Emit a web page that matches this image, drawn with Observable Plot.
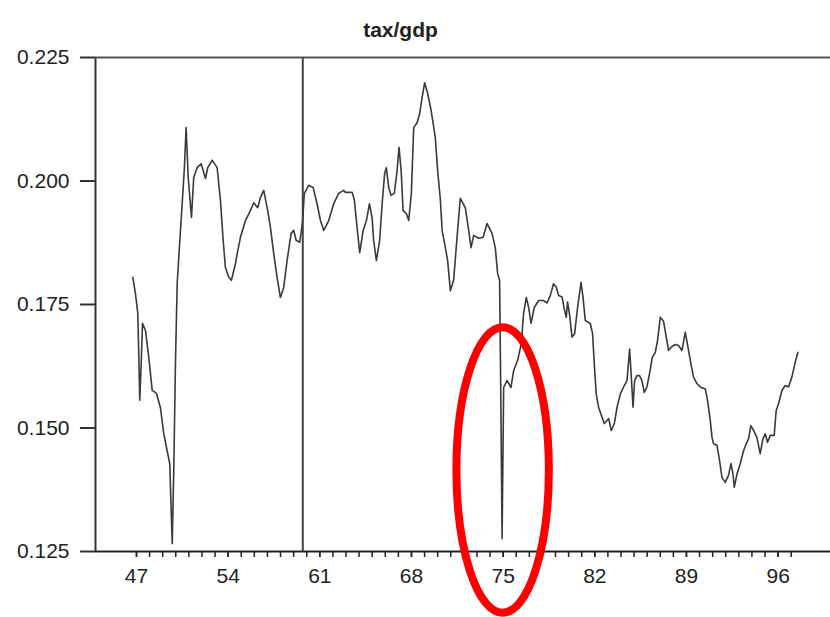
<!DOCTYPE html>
<html>
<head>
<meta charset="utf-8">
<script src="https://cdn.jsdelivr.net/npm/d3@7"></script>
<script src="https://cdn.jsdelivr.net/npm/@observablehq/plot@0.6"></script>
<style>
  html, body { margin: 0; padding: 0; background: #fff; }
  #chart svg { display: block; }
</style>
</head>
<body>
<div id="chart"></div>
<script>
const title = "tax/gdp";

const years = [
  46.72,46.92,47.10,47.18,47.25,47.36,47.46,47.69,47.94,48.20,
  48.53,48.83,49.08,49.34,49.54,49.73,49.85,49.98,50.11,50.31,
  50.49,50.66,50.79,50.95,51.20,51.37,51.63,51.94,52.27,52.44,
  52.78,53.16,53.41,53.62,53.79,54.05,54.25,54.56,54.69,54.94,
  55.32,55.70,55.95,56.26,56.47,56.72,56.98,57.23,57.48,57.74,
  57.99,58.24,58.50,58.81,59.01,59.19,59.47,59.67,59.82,60.15,
  60.49,60.79,61.05,61.30,61.68,62.06,62.44,62.82,62.95,63.47,
  63.64,63.89,64.05,64.31,64.56,64.79,64.99,65.11,65.32,65.57,
  65.76,65.95,66.08,66.26,66.44,66.69,66.90,67.05,67.21,67.36,
  67.61,67.79,67.99,68.17,68.43,68.63,68.81,69.01,69.24,69.50,
  69.82,70.00,70.21,70.34,70.59,70.76,70.97,71.22,71.48,71.73,
  72.11,72.37,72.55,72.75,73.13,73.47,73.77,74.15,74.40,74.58,
  74.73,74.81,74.92,75.04,75.30,75.60,75.80,76.11,76.39,76.56,
  76.77,76.95,77.13,77.38,77.71,78.09,78.35,78.60,78.85,79.06,
  79.24,79.50,79.67,79.82,79.92,80.08,80.26,80.46,80.69,80.95,
  81.10,81.27,81.66,81.83,81.96,82.11,82.29,82.55,82.73,82.93,
  83.06,83.26,83.49,83.70,83.95,84.20,84.46,84.66,84.76,84.92,
  85.04,85.22,85.42,85.60,85.78,85.98,86.18,86.39,86.62,86.79,
  87.00,87.25,87.46,87.63,87.89,88.15,88.40,88.66,88.91,89.16,
  89.34,89.54,89.80,90.05,90.44,90.61,90.82,90.95,91.07,91.33,
  91.53,91.71,91.96,92.21,92.40,92.55,92.65,92.86,93.11,93.36,
  93.56,93.74,93.92,94.12,94.38,94.63,94.84,95.02,95.19,95.40,
  95.70,95.85,96.03,96.29,96.54,96.79,97.05,97.30,97.51
];

const taxGdp = [
  .1805,.1772,.1732,.1643,.1556,.1631,.1712,.1697,.1643,.1576,
  .1570,.1541,.1489,.1454,.1428,.1266,.1420,.1637,.1793,.1880,
  .1954,.2027,.2108,.2007,.1926,.2007,.2027,.2035,.2005,.2027,
  .2042,.2027,.1961,.1880,.1825,.1805,.1799,.1833,.1853,.1886,
  .1920,.1940,.1956,.1946,.1967,.1981,.1946,.1906,.1853,.1805,
  .1764,.1784,.1839,.1894,.1900,.1880,.1876,.1914,.1975,.1991,
  .1987,.1954,.1920,.1900,.1920,.1954,.1975,.1981,.1977,.1977,
  .1961,.1894,.1855,.1900,.1920,.1954,.1926,.1880,.1839,.1880,
  .1954,.2015,.2027,.1987,.1971,.1975,.2021,.2068,.2021,.1940,
  .1934,.1920,.1975,.2108,.2118,.2137,.2169,.2199,.2177,.2143,
  .2088,.2021,.1961,.1900,.1865,.1839,.1778,.1799,.1886,.1965,
  .1946,.1900,.1865,.1890,.1884,.1886,.1914,.1894,.1865,.1813,
  .1799,.1596,.1276,.1582,.1596,.1582,.1616,.1637,.1671,.1732,
  .1764,.1744,.1712,.1744,.1758,.1758,.1753,.1768,.1792,.1785,
  .1768,.1765,.1741,.1724,.1755,.1728,.1684,.1691,.1745,.1795,
  .1765,.1718,.1711,.1691,.1630,.1569,.1542,.1522,.1509,.1515,
  .1519,.1495,.1509,.1542,.1569,.1583,.1596,.1660,.1616,.1542,
  .1596,.1606,.1606,.1596,.1572,.1583,.1610,.1643,.1653,.1677,
  .1724,.1716,.1684,.1657,.1665,.1669,.1667,.1657,.1694,.1657,
  .1630,.1603,.1590,.1583,.1579,.1556,.1515,.1481,.1468,.1465,
  .1434,.1400,.1390,.1404,.1428,.1407,.1380,.1407,.1428,.1454,
  .1468,.1478,.1505,.1495,.1481,.1448,.1478,.1488,.1471,.1485,
  .1485,.1535,.1549,.1576,.1586,.1583,.1603,.1633,.1653
];

const xTickLabels = [47, 54, 61, 68, 75, 82, 89, 96];
const xMinorTicks = [47,48,49,50,51,52,53,54,55,56,57,58,59,60,61,62,63,64,65,66,67,68,69,70,71,72,73,74,75,76,77,78,79,80,81,82,83,84,85,86,87,88,89,90,91,92,93,94,95,96,97];
const yTicks = [0.125, 0.150, 0.175, 0.200, 0.225];
const breakYear = [59.7];
// highlighted observation (red ellipse): centre year/value and half-extent in data units
const highlight = {year: 75.0, value: 0.1414, halfYears: 3.53, halfValue: 0.0289};

const data = years.map((y, i) => ({year: y, value: taxGdp[i]}));
const xDomain = [43.87, 100];
const yDomain = [0.125, 0.225];
const font = "'Liberation Sans', Arial, Helvetica, sans-serif";

const plot = Plot.plot({
  width: 830,
  height: 617,
  marginLeft: 95,
  marginRight: 0,
  marginTop: 57,
  marginBottom: 66,
  style: {fontFamily: font, fontSize: "21px", color: "#222", background: "#fff", overflow: "visible"},
  x: {domain: xDomain, axis: null},
  y: {domain: yDomain, axis: null},
  marks: [
    Plot.axisX(xMinorTicks, {tickSize: 6, tickFormat: () => "", stroke: "#222", strokeWidth: 1.5, label: null}),
    Plot.axisX(xTickLabels, {tickSize: 6, tickPadding: 11, fontSize: 21, stroke: "#222", strokeWidth: 1.5, label: null, fill: "#222"}),
    Plot.axisY(yTicks, {tickSize: 15, tickPadding: 11, fontSize: 21, tickFormat: d3.format(".3f"), stroke: "#333", strokeWidth: 2, label: null, fill: "#222"}),
    Plot.ruleX([xDomain[0]], {stroke: "#333", strokeWidth: 2}),
    Plot.ruleY([yDomain[1]], {stroke: "#555", strokeWidth: 2}),
    Plot.ruleY([yDomain[0]], {stroke: "#222", strokeWidth: 2}),
    Plot.ruleX(breakYear, {stroke: "#444", strokeWidth: 2}),
    Plot.line(data, {x: "year", y: "value", stroke: "#3a3a3a", strokeWidth: 1.6, strokeLinejoin: "round"}),
    Plot.text([title], {frameAnchor: "top-left", dx: 305, dy: -27, textAnchor: "middle", lineAnchor: "middle", fontSize: 21, fontWeight: "bold", fill: "#222"})
  ]
});

document.getElementById("chart").appendChild(plot);

// red ellipse annotation drawn with the plot's own scales
const sx = plot.scale("x"), sy = plot.scale("y");
const cx = sx.apply(highlight.year);
const cy = sy.apply(highlight.value);
const rx = Math.abs(sx.apply(highlight.year + highlight.halfYears) - cx);
const ry = Math.abs(sy.apply(highlight.value + highlight.halfValue) - cy);
d3.select(plot).append("ellipse")
  .attr("cx", cx).attr("cy", cy).attr("rx", rx).attr("ry", ry)
  .attr("fill", "none").attr("stroke", "#ff0000").attr("stroke-width", 8);
</script>
</body>
</html>
